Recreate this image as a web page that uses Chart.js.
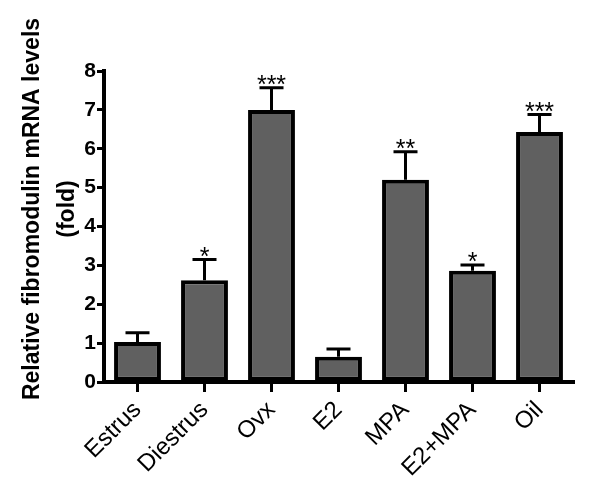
<!DOCTYPE html>
<html>
<head>
<meta charset="utf-8">
<script src="https://cdn.jsdelivr.net/npm/chart.js@4"></script>
<style>
  html, body { margin: 0; padding: 0; background: #fff; }
  #wrap { width: 600px; height: 497px; }
</style>
</head>
<body>
<div id="wrap"><canvas id="chart" width="600" height="497"></canvas></div>
<script>
const groups = ['Estrus', 'Diestrus', 'Ovx', 'E2', 'MPA', 'E2+MPA', 'Oil'];
const meanFold = [1.03, 2.62, 7.0, 0.65, 5.2, 2.86, 6.43];
const errorTop = [1.27, 3.15, 7.57, 0.85, 5.92, 3.01, 6.88];
const stars = ['', '*', '***', '', '**', '*', '***'];
const yTicks = [0, 1, 2, 3, 4, 5, 6, 7, 8];
const yTitle = ['Relative fibromodulin mRNA levels', '(fold)'];

const FONT = '"Liberation Sans", Arial, sans-serif';

// error bars + significance stars
const errorBars = {
    id: 'errorBars',
    afterDatasetsDraw(chart) {
        const ctx = chart.ctx;
        const y = chart.scales.y;
        const meta = chart.getDatasetMeta(0);
        ctx.save();
        ctx.strokeStyle = '#000';
        ctx.fillStyle = '#000';
        ctx.lineWidth = 3;
        meta.data.forEach((bar, i) => {
            const x = bar.x;
            const top = y.getPixelForValue(meanFold[i]);
            const cap = y.getPixelForValue(errorTop[i]);
            ctx.beginPath();
            ctx.moveTo(x, top);
            ctx.lineTo(x, cap);
            ctx.moveTo(x - 12, cap);
            ctx.lineTo(x + 12, cap);
            ctx.stroke();
            if (stars[i]) {
                ctx.font = '25px ' + FONT;
                ctx.textAlign = 'center';
                ctx.textBaseline = 'alphabetic';
                const m = ctx.measureText(stars[i]);
                ctx.fillText(stars[i], x, cap - 3 - m.actualBoundingBoxDescent);
            }
        });
        ctx.restore();
    }
};

// y axis title, placed a little above the plot centre like the original
const axisTitle = {
    id: 'axisTitle',
    afterDraw(chart) {
        const ctx = chart.ctx;
        ctx.save();
        ctx.fillStyle = '#000';
        ctx.font = 'bold 23px ' + FONT;
        ctx.textAlign = 'center';
        ctx.textBaseline = 'alphabetic';
        ctx.translate(0, 209);
        ctx.rotate(-Math.PI / 2);
        ctx.fillText(yTitle[0], 0, 39);
        ctx.fillText(yTitle[1], 0, 74);
        ctx.restore();
    }
};

new Chart(document.getElementById('chart'), {
    type: 'bar',
    data: {
        labels: groups,
        datasets: [{
            data: meanFold,
            backgroundColor: '#606060',
            borderColor: '#000',
            borderWidth: 4,
            borderSkipped: false,
            categoryPercentage: 1,
            barPercentage: 0.7
        }]
    },
    options: {
        responsive: false,
        animation: false,
        layout: { padding: { top: 71, right: 27, left: 0, bottom: 0 } },
        plugins: { legend: { display: false }, tooltip: { enabled: false } },
        scales: {
            x: {
                offset: true,
                afterFit(axis) { axis.height = 115; },
                border: { color: '#000', width: 4 },
                grid: { offset: false, drawOnChartArea: false, drawTicks: true, tickLength: 10, color: '#000', lineWidth: 3 },
                ticks: {
                    color: '#000',
                    maxRotation: 45,
                    minRotation: 45,
                    autoSkip: false,
                    font: { family: FONT, size: 24 },
                    padding: 4
                }
            },
            y: {
                min: 0,
                max: 8,
                afterFit(axis) { axis.width = 104; },
                afterBuildTicks(axis) { axis.ticks = yTicks.map(v => ({ value: v })); },
                border: { color: '#000', width: 4 },
                grid: { drawOnChartArea: false, drawTicks: true, tickLength: 7, color: '#000', lineWidth: 3 },
                ticks: {
                    color: '#000',
                    padding: 1,
                    font: { family: FONT, size: 21, weight: 'bold' }
                },
                title: { display: false }
            }
        }
    },
    plugins: [errorBars, axisTitle]
});
</script>
</body>
</html>
